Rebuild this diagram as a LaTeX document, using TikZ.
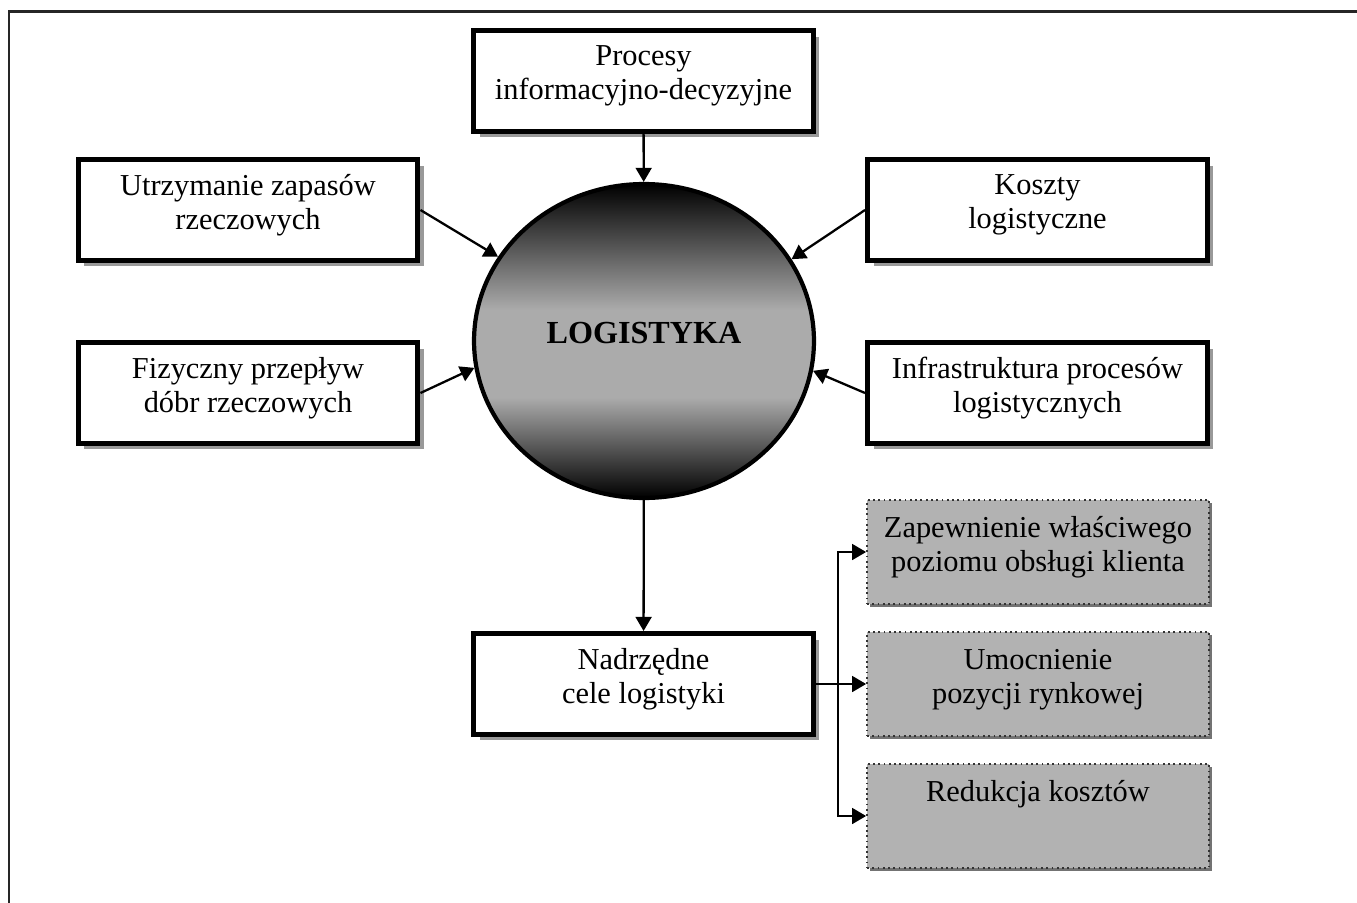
\documentclass[tikz,border=0pt]{standalone}
\usepackage{fontspec}
\setmainfont{Liberation Serif}
\usetikzlibrary{shapes.geometric,arrows.meta,shadows}
\pgfdeclareverticalshading{logishade}{100bp}{color(0bp)=(black); color(25bp)=(black);
  color(41bp)=(black!33); color(55bp)=(black!33); color(75bp)=(black); color(100bp)=(black)}

\begin{document}
\begin{tikzpicture}[x=0.02cm,y=-0.02cm,
    frame/.style={line width=0.06cm,black!85},
    topic/.style={draw,line width=0.1cm,fill=white,minimum width=6.8cm,minimum height=2.02cm,
      align=center,text depth=0.32cm,font=\fontsize{17.3}{19.4}\selectfont,
      drop shadow={shadow xshift=0.12cm,shadow yshift=-0.12cm,fill=black!40,opacity=1}},
    goal/.style={draw=black!80,dotted,line width=1pt,fill=black!30,minimum width=6.84cm,minimum height=2.08cm,
      align=center,text depth=0.32cm,font=\fontsize{17.3}{19.4}\selectfont,
      drop shadow={shadow xshift=0.06cm,shadow yshift=-0.06cm,fill=black!55,opacity=1}},
    core/.style={ellipse,draw,line width=2.4pt,minimum width=6.8cm,minimum height=6.28cm,
      shading=logishade,text depth=0.32cm,font=\fontsize{18.3}{22}\selectfont\bfseries},
    arr/.style={line width=1.3pt,-{Triangle[length=8pt,width=9pt]}}]
  \useasboundingbox (0,0) rectangle (1357,903);
  % frame
  \draw[frame] (9,903) -- (9,11) -- (1357,11);
  % nodes
  \node[core] at (644,341) (logi) {LOGISTYKA};
  \node[topic] at (643.5,81) (proc) {Procesy\\informacyjno-decyzyjne};
  \node[topic] at (248,210) (utrz) {Utrzymanie zapasów\\rzeczowych};
  \node[topic] at (1037.5,210) (koszty) {Koszty\\logistyczne};
  \node[topic] at (248,393) (fiz) {Fizyczny przepływ\\dóbr rzeczowych};
  \node[topic] at (1037.5,393) (infra) {Infrastruktura procesów\\logistycznych};
  \node[topic] at (643.5,684) (nadrz) {Nadrzędne\\cele logistyki};
  \node[goal] at (1038,552) (zap) {Zapewnienie właściwego\\poziomu obsługi klienta};
  \node[goal] at (1038,684) (umoc) {Umocnienie\\pozycji rynkowej};
  \node[goal] at (1038,816) (red) {Redukcja kosztów\\\mbox{}};
  \coordinate (fork) at (838,684);
  % connectors
  \draw[arr] (proc) -- (logi);
  \draw[arr] (utrz.east) -- (logi.150.6);
  \draw[arr] (koszty.west) -- (logi.29.4);
  \draw[arr] (fiz.east) -- (logi.189);
  \draw[arr] (infra.west) -- (logi.-10.3);
  \draw[arr] (logi) -- (nadrz);
  \draw[arr] (nadrz.east) -- (umoc.west);
  \draw[arr] (fork) |- (zap.west);
  \draw[arr] (fork) |- (red.west);
\end{tikzpicture}
\end{document}
